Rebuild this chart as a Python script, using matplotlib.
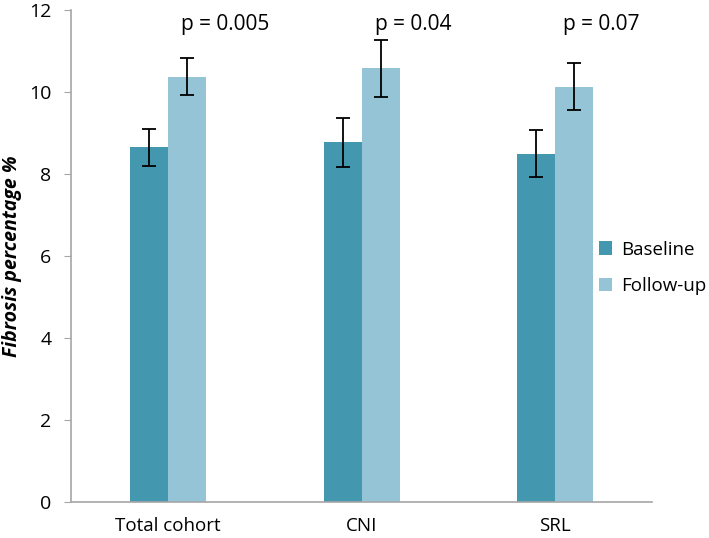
import numpy as np
import matplotlib.pyplot as plt

plt.rcParams['font.family'] = ['Open Sans', 'DejaVu Sans']

groups = ['Total cohort', 'CNI', 'SRL']
baseline = [8.65, 8.78, 8.50]
baseline_err = [0.44, 0.60, 0.58]
followup = [10.38, 10.58, 10.13]
followup_err = [0.46, 0.70, 0.57]
p_labels = ['p = 0.005', 'p = 0.04', 'p = 0.07']

c_base = '#4398B0'
c_fu = '#94C4D6'
spine_col = '#A6A6A6'

fig = plt.figure(figsize=(7.09, 5.38), dpi=100)
ax = fig.add_axes([0.100, 0.067, 0.820, 0.914])

x = np.arange(len(groups))
w = 0.196
ax.bar(x - w / 2, baseline, w, color=c_base, label='Baseline',
       yerr=baseline_err, capsize=5, error_kw=dict(ecolor='black', elinewidth=1.3, capthick=1.3))
ax.bar(x + w / 2, followup, w, color=c_fu, label='Follow-up',
       yerr=followup_err, capsize=5, error_kw=dict(ecolor='black', elinewidth=1.3, capthick=1.3))

p_offsets = [0.07, 0.07, 0.04]
for i, lab in enumerate(p_labels):
    ax.text(x[i] + p_offsets[i], 11.65, lab, ha='left', va='center', fontsize=15)

ax.set_xlim(-0.5, 2.5)
ax.set_ylim(0, 12)
ax.set_yticks(np.arange(0, 13, 2))
ax.set_xticks(x)
ax.set_xticklabels(groups, fontsize=13.5)
ax.tick_params(axis='y', labelsize=14, length=5, color=spine_col, pad=9)
ax.tick_params(axis='x', length=0, pad=11)
for s in ['top', 'right']:
    ax.spines[s].set_visible(False)
for s in ['left', 'bottom']:
    ax.spines[s].set_color(spine_col)
    ax.spines[s].set_linewidth(1.2)

ax.set_ylabel('Fibrosis percentage %', fontsize=14, fontweight='bold', fontstyle='italic', labelpad=5)

fig.legend(loc='center left', bbox_to_anchor=(0.845, 0.502), frameon=False,
           fontsize=13.5, handlelength=0.7, handleheight=0.7, handletextpad=0.5,
           labelspacing=1.0, borderpad=0, borderaxespad=0)

fig.savefig('out.png', dpi=100)
